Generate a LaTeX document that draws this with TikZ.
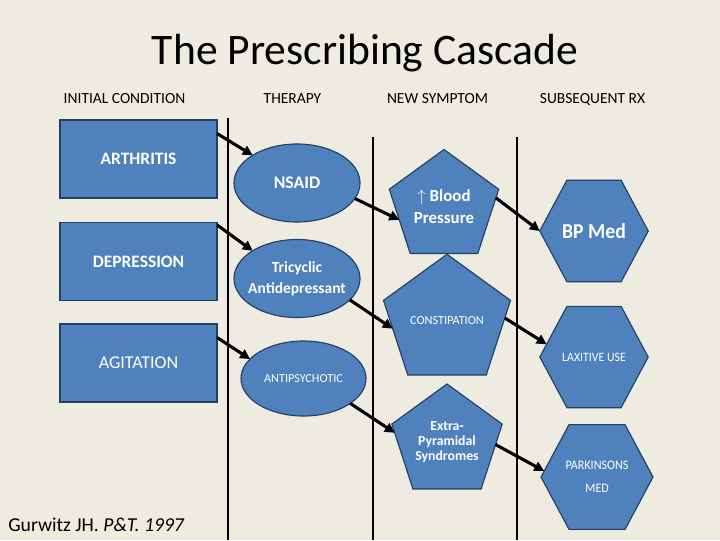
\documentclass[tikz,border=0pt]{standalone}
\usepackage{fontspec}
\setmainfont{Carlito}
\usetikzlibrary{shapes.geometric,arrows.meta}

\definecolor{slidebg}{HTML}{EEECE1}
\definecolor{boxblue}{HTML}{4F81BD}
\definecolor{boxedge}{HTML}{243F60}

\tikzset{
    shapebase/.style={draw=boxedge, fill=boxblue, line width=0.8pt, text=white, align=center, outer sep=0pt},
    condbox/.style={shapebase, rectangle, minimum width=3.925cm, minimum height=1.95cm, inner sep=0pt,
        font=\bfseries\fontsize{12.4}{15}\selectfont},
    therapy/.style={shapebase, ellipse, minimum width=3.15cm, minimum height=1.95cm, inner sep=0pt, inner xsep=-5pt},
    symptom/.style={shapebase, regular polygon, regular polygon sides=5, minimum size=2.875cm, inner sep=1pt},
    subrx/.style={shapebase, regular polygon, regular polygon sides=6, minimum size=2.675cm, inner sep=1pt, yscale=1.08},
    cascade/.style={line width=2.2pt, -{Triangle[length=7pt,width=7pt]}},
    divider/.style={line width=1.3pt},
    colhead/.style={anchor=base, inner sep=0pt, font=\fontsize{11}{13}\selectfont}
}

\begin{document}
\begin{tikzpicture}[x=0.025cm, y=-0.025cm]
    % Slide background
    \fill[slidebg] (0,0) rectangle (720,540);
    \useasboundingbox (0,0) rectangle (720,540);

    % Title and column heads
    \node[anchor=base, font=\fontsize{31}{36}\selectfont] (title) at (365,64) {The Prescribing Cascade};
    \node[colhead] (hcond) at (124.5,103) {INITIAL CONDITION};
    \node[colhead] (hther) at (292.5,103) {THERAPY};
    \node[colhead] (hsymp) at (437.5,103) {NEW SYMPTOM};
    \node[colhead] (hsubs) at (592.5,103) {SUBSEQUENT RX};

    % Column dividers
    \draw[divider] (228,118) -- (228,540);
    \draw[divider] (373,137) -- (373,540);
    \draw[divider] (517,137) -- (517,540);

    % Initial conditions
    \node[condbox] (arth) at (138.5,159) {ARTHRITIS};
    \node[condbox] (depr) at (138.5,261.5) {DEPRESSION};
    \node[condbox, font=\fontsize{12.8}{15}\selectfont] (agit) at (138.5,363) {AGITATION};

    % Therapies
    \node[therapy, font=\bfseries\fontsize{12.6}{15}\selectfont] (nsaid) at (297,183) {NSAID};
    \node[therapy, font=\bfseries\fontsize{11}{15}\selectfont] (tricy) at (297,278.5) {Tricyclic\\Antidepressant};
    \node[therapy, minimum width=3.125cm, minimum height=1.875cm, font=\fontsize{8.7}{10}\selectfont] (antip) at (303.5,378.5) {ANTIPSYCHOTIC};

    % New symptoms
    \node[symptom, font=\bfseries\fontsize{12}{15.6}\selectfont] (bp) at (444,207) {$\uparrow$ Blood\\Pressure};
    \node[symptom, minimum size=2.9cm, font=\fontsize{8.7}{10}\selectfont] (const) at (447,321) {CONSTIPATION};
    \node[symptom, minimum size=2.9cm, font=\bfseries\fontsize{9.8}{10.8}\selectfont] (eps) at (447,442) {Extra-\\Pyramidal\\Syndromes};

    % Subsequent prescriptions
    \node[subrx, font=\bfseries\fontsize{14}{16}\selectfont] (bpmed) at (594,231) {BP Med};
    \node[subrx, font=\fontsize{8.4}{10}\selectfont] (laxat) at (594,357) {LAXITIVE USE};
    \node[subrx, minimum size=2.8cm, font=\fontsize{8.6}{15}\selectfont] (parkin) at (597,477) {PARKINSONS\\MED};

    % Cascade arrows
    \draw[cascade] (arth.18) -- (nsaid.148);
    \draw[cascade] (depr.25) -- (tricy.148);
    \draw[cascade] (agit.18) -- (antip.160);
    \draw[cascade] (nsaid.345) -- (bp.196);
    \draw[cascade] (tricy.338) -- (const.188);
    \draw[cascade] (antip.332) -- (eps.170);
    \draw[cascade] (bp.10) -- (bpmed.180);
    \draw[cascade] (const.3) -- (laxat.166);
    \draw[cascade] (eps.357) -- (parkin.174);

    % Source
    \node[anchor=base west, inner sep=0pt, font=\fontsize{14}{16}\selectfont] (cite) at (8,531) {Gurwitz JH. \textit{P\&T. 1997}};
\end{tikzpicture}
\end{document}
